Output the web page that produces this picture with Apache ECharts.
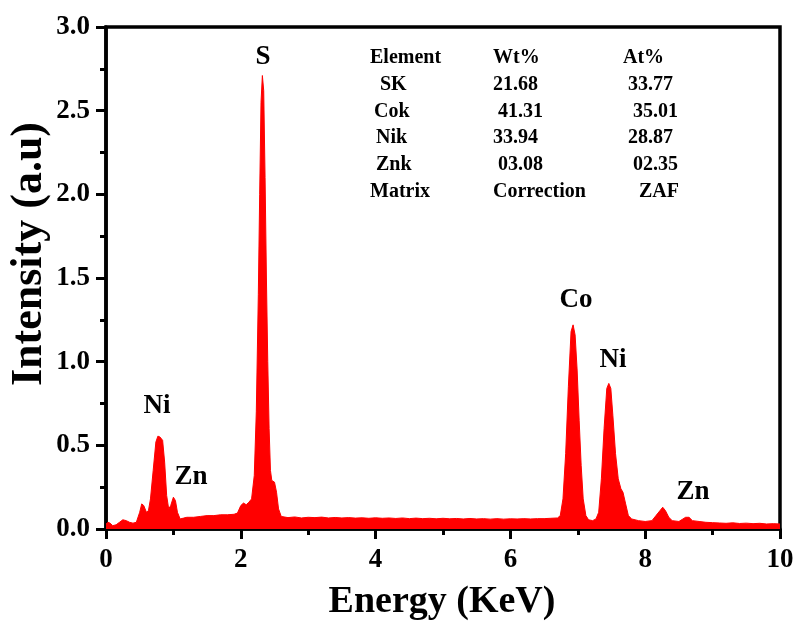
<!DOCTYPE html>
<html><head><meta charset="utf-8">
<script src="https://cdn.jsdelivr.net/npm/echarts@6/dist/echarts.min.js"></script>
<style>html,body{margin:0;padding:0;background:#fff}#c{width:799px;height:623px}</style>
</head><body><div id="c"></div>
<script>
// Energy (keV) and intensity (a.u.)
const energy = [
 0.00,0.03,0.06,0.10,0.15,0.20,0.25,0.30,0.35,0.40,0.45,0.50,0.53,0.56,0.60,0.63,0.66,0.70,0.74,0.77,0.80,0.84,0.87,0.90,0.93,0.96,1.00,1.03,1.06,1.10,1.15,1.20,1.30,1.40,1.50,1.60,1.70,1.80,1.90,1.95,2.00,2.04,2.08,2.12,2.16,
 2.20,2.23,2.26,2.28,2.30,2.32,2.34,2.36,2.38,2.40,2.42,2.44,2.46,2.50,2.53,2.56,
 2.60,2.70,2.80,2.90,3.00,3.10,3.20,3.30,3.40,3.50,3.60,3.70,3.80,3.90,4.00,4.10,4.20,4.30,4.40,4.50,4.60,4.70,4.80,4.90,5.00,5.10,5.20,5.30,5.40,5.50,5.60,5.70,5.80,5.90,6.00,6.10,6.20,6.30,6.40,6.50,6.60,6.70,
 6.74,6.78,6.82,6.86,6.90,6.93,6.96,6.99,7.02,7.05,7.08,7.12,7.16,7.22,7.27,7.31,7.35,7.39,7.43,7.46,7.49,7.52,7.56,7.60,7.64,7.67,7.71,7.75,7.80,7.90,8.00,
 8.10,8.16,8.22,8.26,8.30,8.35,8.40,8.50,8.56,8.60,8.65,8.70,8.80,8.90,9.00,9.10,9.20,9.30,9.40,9.50,9.60,9.70,9.80,9.90,10.00
];
const intensity = [
 0.030,0.040,0.035,0.020,0.025,0.040,0.055,0.050,0.040,0.035,0.040,0.100,0.150,0.140,0.100,0.110,0.180,0.350,0.520,0.555,0.550,0.530,0.400,0.200,0.120,0.140,0.190,0.170,0.100,0.060,0.065,0.070,0.070,0.075,0.080,0.080,0.085,0.085,0.088,0.095,0.140,0.155,0.145,0.160,0.180,
 0.320,0.700,1.400,2.000,2.550,2.710,2.620,2.100,1.500,1.000,0.600,0.350,0.290,0.280,0.220,0.120,
 0.075,0.068,0.072,0.066,0.070,0.068,0.071,0.066,0.069,0.066,0.068,0.065,0.067,0.064,0.067,0.064,0.066,0.063,0.066,0.062,0.065,0.062,0.064,0.061,0.064,0.061,0.063,0.060,0.063,0.060,0.062,0.059,0.062,0.059,0.061,0.060,0.062,0.060,0.062,0.062,0.064,0.066,
 0.080,0.180,0.450,0.850,1.180,1.220,1.160,0.950,0.650,0.380,0.180,0.080,0.055,0.050,0.060,0.100,0.300,0.600,0.840,0.870,0.840,0.680,0.450,0.300,0.240,0.220,0.150,0.080,0.060,0.050,0.045,
 0.050,0.080,0.110,0.130,0.110,0.070,0.050,0.045,0.060,0.070,0.070,0.050,0.045,0.040,0.038,0.036,0.034,0.037,0.033,0.035,0.032,0.034,0.030,0.032,0.030
];
const xTicks = [0, 2, 4, 6, 8, 10];
const yTicks = ['0.0','0.5','1.0','1.5','2.0','2.5','3.0'];
const peakLabels = ['S', 'Ni', 'Zn', 'Co', 'Ni', 'Zn'];
const tableRows = [
 ['Element', 'Wt%', 'At%'],
 ['SK', '21.68', '33.77'],
 ['Cok', '41.31', '35.01'],
 ['Nik', '33.94', '28.87'],
 ['Znk', '03.08', '02.35'],
 ['Matrix', 'Correction', 'ZAF']
];
const xTitle = 'Energy (KeV)';
const yTitle = 'Intensity (a.u)';

const FONT = '"Liberation Serif","Times New Roman",serif';
const peakPos = [[263,57],[157,406],[191,477],[576,300],[613,360],[693,492]];
const colX = [[370,493,623],[380,493,628],[374,498,633],[376,493,628],[376,498,633],[370,493,639]];
const rowY = [58,85,112,138,165,192];

const graphic = [];
peakLabels.forEach((t,i)=>graphic.push({type:'text',x:peakPos[i][0],y:peakPos[i][1],
  style:{text:t,font:'bold 27px '+FONT,fill:'#000',textAlign:'center',textVerticalAlign:'middle'}}));
tableRows.forEach((row,r)=>row.forEach((t,c)=>graphic.push({type:'text',x:colX[r][c],y:rowY[r],
  style:{text:t,font:'bold 20px '+FONT,fill:'#000',textAlign:'left',textVerticalAlign:'middle'}})));
graphic.push({type:'text',x:442,y:602,style:{text:xTitle,font:'bold 38px '+FONT,fill:'#000',textAlign:'center',textVerticalAlign:'middle'}});
graphic.push({type:'text',x:30,y:254,rotation:Math.PI/2,style:{text:yTitle,font:'bold 44px '+FONT,fill:'#000',textAlign:'center',textVerticalAlign:'middle'}});

const chart = echarts.init(document.getElementById('c'), null, {renderer:'canvas'});
const axisCommon = {
  axisLine:{show:true,onZero:false,lineStyle:{color:'#000',width:3.5}},
  axisTick:{show:true,inside:false,length:10,lineStyle:{color:'#000',width:3}},
  minorTick:{show:true,splitNumber:2,length:6,lineStyle:{color:'#000',width:3}},
  splitLine:{show:false}
};
chart.setOption({
  animation:false,
  backgroundColor:'#fff',
  grid:{left:106,right:19,top:27,bottom:94,show:true,borderColor:'#000',borderWidth:3.5,backgroundColor:'transparent'},
  xAxis:Object.assign({type:'value',min:xTicks[0],max:xTicks[xTicks.length-1],interval:xTicks[1]-xTicks[0],
    axisLabel:{color:'#000',fontFamily:FONT,fontWeight:'bold',fontSize:27,margin:18}},axisCommon),
  yAxis:Object.assign({type:'value',min:0,max:3,interval:0.5,
    axisLabel:{color:'#000',fontFamily:FONT,fontWeight:'bold',fontSize:27,margin:16,formatter:v=>yTicks[Math.round(v*2)]}},axisCommon),
  series:[{type:'line',data:energy.map((e,i)=>[e,intensity[i]]),showSymbol:false,symbol:'none',
    lineStyle:{color:'#ff0000',width:1},areaStyle:{color:'#ff0000',opacity:1},itemStyle:{color:'#ff0000'}}],
  graphic:graphic
});
</script></body></html>
